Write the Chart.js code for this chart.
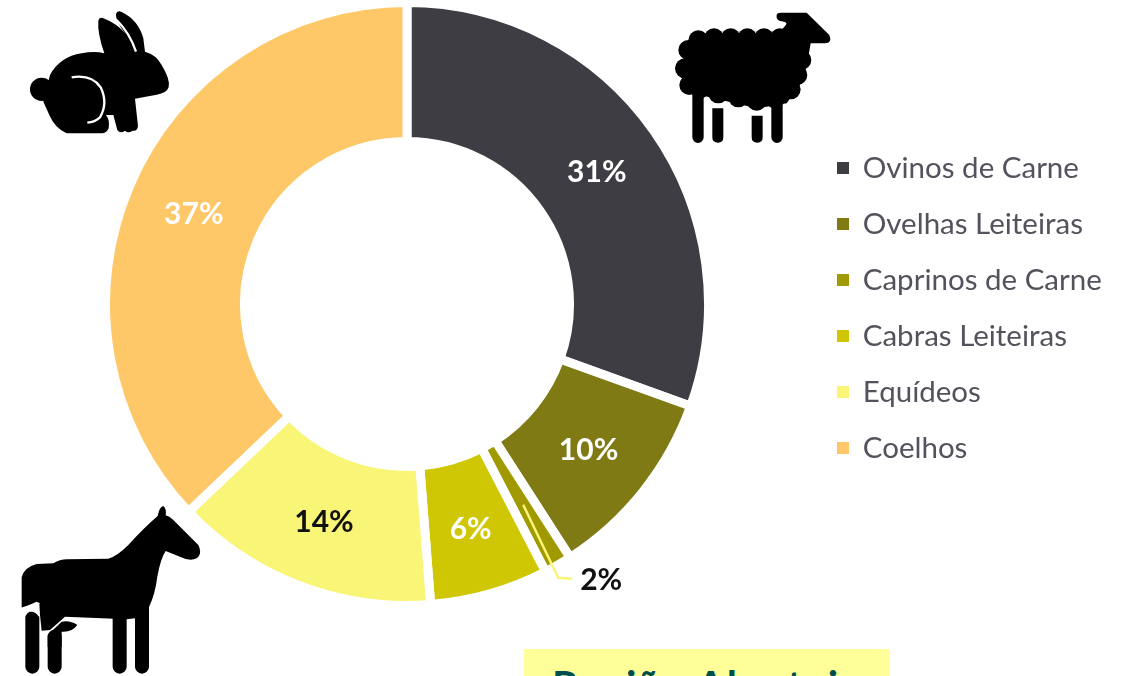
<!DOCTYPE html>
<html><head><meta charset="utf-8">
<style>
html,body{margin:0;padding:0;background:#fff;overflow:hidden;width:1135px;height:676px}
#wrap{position:relative;width:1135px;height:676px;overflow:hidden;filter:blur(.55px)}
canvas{position:absolute;left:0;top:0}
#icons{position:absolute;left:0;top:0;pointer-events:none}
#box{position:absolute;left:524px;top:649px;width:366px;height:60px;background:#ffff99;color:#004f4f;font:700 41px Lato,sans-serif;letter-spacing:1.8px;padding-left:28px;box-sizing:border-box;line-height:72px;white-space:nowrap}
</style>
<script src="https://cdn.jsdelivr.net/npm/chart.js@4"></script>
</head><body>
<div id="wrap">
<canvas id="c" width="1135" height="676"></canvas>
<svg id="icons" width="1135" height="676" viewBox="0 0 1135 676">
<g transform="translate(10,0) scale(.3333)">
<circle cx="95" cy="268" r="35"/>
<path d="M120 225Q150 170 215 160Q255 152 283 160Q262 100 265 62Q267 50 280 55Q320 70 345 100Q315 60 318 42Q322 30 335 36Q385 60 400 115L405 155Q440 165 455 195Q482 240 476 262Q470 280 440 284L375 296L384 378Q382 395 368 392Q355 402 345 392Q330 402 322 390L310 345L288 345Q300 360 296 385Q290 400 275 400L170 400Q135 385 118 345L100 305Z"/>
<path d="M185 232Q245 222 272 262Q295 310 270 352Q255 366 232 368M320 60Q360 100 378 155" fill="none" stroke="#fff" stroke-width="7"/>
</g>
<g transform="translate(660,0) scale(.3333)">
<path d="M350 46Q350 38 362 38L440 38L508 105Q518 130 495 130L452 130L440 200L330 130L375 78Q385 68 372 65L358 62Q348 58 350 46Z"/>
<path d="M82 125H380L445 170L430 240L380 310L290 325L120 285L60 220Z"/>
<g><circle cx="115" cy="121" r="30"/><circle cx="162" cy="115" r="30"/><circle cx="212" cy="115" r="30"/><circle cx="262" cy="115" r="30"/><circle cx="312" cy="115" r="30"/><circle cx="360" cy="115" r="30"/><circle cx="417" cy="135" r="30"/><circle cx="424" cy="180" r="30"/><circle cx="412" cy="225" r="30"/><circle cx="392" cy="268" r="30"/><circle cx="345" cy="295" r="30"/><circle cx="290" cy="302" r="30"/><circle cx="235" cy="292" r="30"/><circle cx="175" cy="280" r="30"/><circle cx="120" cy="265" r="30"/><circle cx="88" cy="255" r="30"/><circle cx="85" cy="150" r="30"/><circle cx="75" cy="205" r="30"/></g>
<path d="M114 270V412M351 300V412" stroke="#000" stroke-width="34" stroke-linecap="round" fill="none"/>
<path d="M157 325H190V412Q190 428 174 428Q157 428 157 412ZM275 347H308V412Q308 428 292 428Q275 428 275 412Z"/>
</g>
<g transform="translate(0,490) scale(.3333)">
<path d="M473 78Q478 50 490 48Q500 55 497 76Q508 78 520 90L595 165Q608 190 590 205Q570 215 540 200L497 183Q482 205 472 260Q466 310 447 352L447 385L405 385L380 388L195 380L150 420L125 422L120 375L118 340L110 335L65 355L65 262Q72 232 110 222L160 220Q180 208 200 208L325 206Q350 200 385 165Q430 115 473 78Z"/>
<path d="M97 385V530M164 440V530M359 385V530M426 385V530" stroke="#000" stroke-width="42" stroke-linecap="round" fill="none"/>
<path d="M143 435L185 395Q210 390 232 405Q215 428 185 425L185 470L143 470Z"/>
<path d="M118 340L65 355M118 378Q108 362 90 362" fill="none" stroke="#fff" stroke-width="5"/>
</g>
</svg>
<div id="box">Região Alentejo</div>
</div>
<script>
const categories=['Ovinos de Carne','Ovelhas Leiteiras','Caprinos de Carne','Cabras Leiteiras','Equídeos','Coelhos'];
const shares=[30.5,10.4,1.5,6.35,14.15,37.1];
const percentLabels=['31%','10%','2%','6%','14%','37%'];
const sliceColors=['#3d3d43','#7f7a14','#a09a00','#cfc704','#f9f576','#fec868'];
const labelColors=['#ffffff','#ffffff','#111111','#ffffff','#111111','#ffffff'];

const sliceLabels={id:'sliceLabels',afterDatasetsDraw(chart){
  const {ctx}=chart,arcs=chart.getDatasetMeta(0).data;
  ctx.save();
  ctx.font='700 30px Lato,sans-serif';ctx.textAlign='center';ctx.textBaseline='middle';
  arcs.forEach((arc,i)=>{
    const p=arc.tooltipPosition();
    const txt=percentLabels[i];
    ctx.fillStyle=labelColors[i];
    if(i===2){
      ctx.strokeStyle='#f9f576';ctx.lineWidth=2.5;
      ctx.beginPath();ctx.moveTo(p.x,p.y);ctx.lineTo(p.x+35,p.y+73);ctx.lineTo(p.x+49,p.y+74);ctx.stroke();
      ctx.fillText(txt,p.x+78,p.y+76);
    } else ctx.fillText(txt,p.x,p.y+2);
  });
  ctx.restore();
}};
const legendNudge={id:'legendNudge',afterLayout(chart){chart.legend.top+=4;chart.legend.bottom+=4;}};

const ch=new Chart(document.getElementById('c'),{
  type:'doughnut',
  data:{labels:categories,datasets:[{data:shares,backgroundColor:sliceColors,borderColor:'#fff',borderWidth:9,borderJoinStyle:'miter',hoverOffset:0}]},
  plugins:[sliceLabels,legendNudge],
  options:{
    responsive:false,animation:false,
    radius:301.5,cutout:'53.9%',
    layout:{padding:{left:2.5,right:0,top:0,bottom:68}},
    plugins:{
      tooltip:{enabled:false},
      legend:{position:'right',align:'center',
        labels:{boxWidth:10,boxHeight:10,padding:26.5,color:'#52535c',font:{family:'Lato',size:29.5},
          generateLabels(chart){
            return Chart.overrides.doughnut.plugins.legend.labels.generateLabels(chart).map(l=>({...l,lineWidth:2,strokeStyle:l.fillStyle}));
          }}}
    }
  }
});
ch.options.layout.padding.right=Math.max(0,1135-811.5-ch.legend.width);
ch.update();
</script>
</body></html>
